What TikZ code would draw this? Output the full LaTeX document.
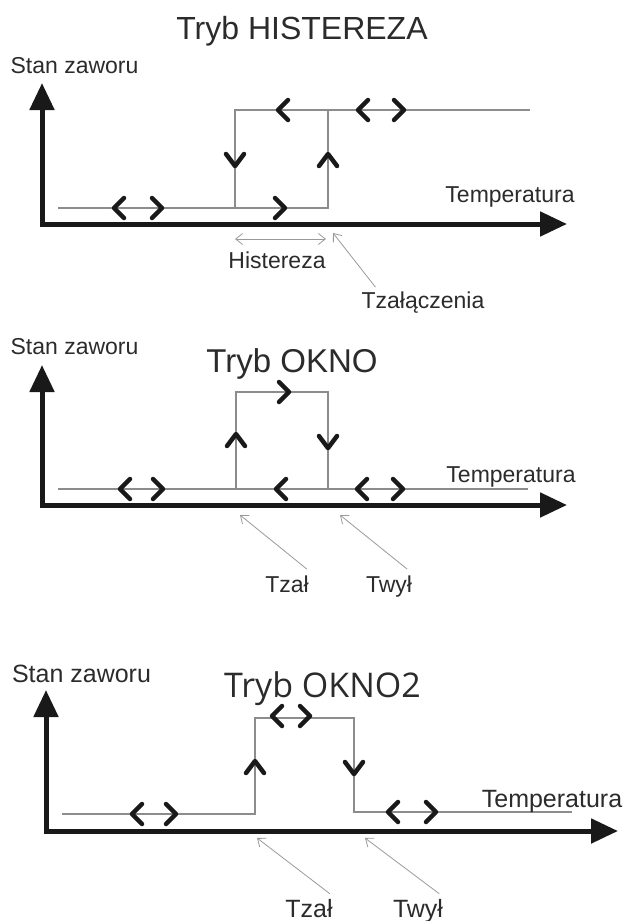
\documentclass[tikz,border=0pt]{standalone}
\usepackage{fontspec}
\setmainfont{Liberation Sans}
\newfontfamily\okfont{Open Sans}
\usetikzlibrary{arrows.meta}

\definecolor{linegray}{gray}{0.55}
\definecolor{axisblack}{gray}{0.1}
\definecolor{txtgray}{gray}{0.17}
\definecolor{annogray}{gray}{0.6}

\tikzset{
  chev/.style={line width=4.5pt,axisblack,line cap=round,line join=round},
  chl/.pic={\draw[chev] (5,-10) -- (-5,0) -- (5,10);},
  chr/.pic={\draw[chev] (-5,-10) -- (5,0) -- (-5,10);},
  chu/.pic={\draw[chev] (-9,6) -- (0,-6) -- (9,6);},
  chd/.pic={\draw[chev] (-9,-6) -- (0,6) -- (9,-6);}
}

\begin{document}
\begin{tikzpicture}[x=1pt,y=-1pt,
    axis/.style={line width=5pt,axisblack,
      {Triangle[length=27pt,width=24pt]}-{Triangle[length=27pt,width=24pt]}},
    curve/.style={line width=1.6pt,linegray},
    anno/.style={line width=0.8pt,annogray,-{Straight Barb[length=7pt,width=11pt]}},
    lbl/.style={text=txtgray,inner sep=0pt,anchor=base,font=\fontsize{23}{27}\selectfont},
    big/.style={lbl,font=\fontsize{25}{30}\selectfont},
    title/.style={text=txtgray,inner sep=0pt,anchor=base,font=\fontsize{32}{38}\selectfont}]
  \useasboundingbox (0,0) rectangle (624,921);

  % Tryb HISTEREZA
  \coordinate (y1) at (42,83);
  \coordinate (o1) at (42,224);
  \coordinate (x1) at (567,224);
  \draw[axis] (y1) -- (o1) -- (x1);
  \draw[curve] (58,208) -| (328,110);
  \draw[curve] (235,208) |- (530,110);
  \pic at (119,208) {chl};
  \pic at (157,208) {chr};
  \pic at (280,208) {chr};
  \pic at (283,110) {chl};
  \pic at (363,110) {chl};
  \pic at (399,110) {chr};
  \pic at (235,160) {chd};
  \pic at (328,160) {chu};
  \node[title] (tit1) at (302,39) {Tryb HISTEREZA};
  \node[lbl] (stan1) at (74.5,73) {Stan zaworu};
  \node[lbl] (temp1) at (510,202) {Temperatura};
  \node[lbl] (hist1) at (277,268) {Histereza};
  \node[lbl] (tzal1) at (423,308) {Tzałączenia};
  \coordinate (hl1) at (235,239);
  \coordinate (hr1) at (326,239);
  \coordinate (pt1) at (333,233);
  \draw[anno,{Straight Barb[length=7pt,width=11pt]}-{Straight Barb[length=7pt,width=11pt]}] (hl1) -- (hr1);
  \draw[anno] ([xshift=14pt,yshift=4pt]tzal1.north west) -- (pt1);

  % Tryb OKNO
  \coordinate (y2) at (42,365);
  \coordinate (o2) at (42,505);
  \coordinate (x2) at (567,505);
  \draw[axis] (y2) -- (o2) -- (x2);
  \draw[curve] (58,489) -- (528,489);
  \draw[curve] (236,489) |- (328,392) -- (328,489);
  \pic at (125,489) {chl};
  \pic at (158,489) {chr};
  \pic at (281,489) {chl};
  \pic at (362,489) {chl};
  \pic at (398,489) {chr};
  \pic at (284,392) {chr};
  \pic at (236,440) {chu};
  \pic at (328,442) {chd};
  \node[title,font=\fontsize{33}{39}\selectfont] (tit2) at (292,372) {Tryb OKNO};
  \node[lbl] (stan2) at (74.5,354) {Stan zaworu};
  \node[lbl] (temp2) at (511,482) {Temperatura};
  \node[lbl] (tzal2) at (287,592) {Tzał};
  \node[lbl] (twyl2) at (389,592) {Twył};
  \coordinate (pz2) at (240,515);
  \coordinate (pw2) at (340,515);
  \draw[anno] ([xshift=-2pt,yshift=6pt]tzal2.north east) -- (pz2);
  \draw[anno] ([xshift=-5pt,yshift=6pt]twyl2.north east) -- (pw2);

  % Tryb OKNO2
  \coordinate (y3) at (46,690);
  \coordinate (o3) at (46,831);
  \coordinate (x3) at (618,831);
  \draw[axis] (y3) -- (o3) -- (x3);
  \draw[curve] (62,814) -| (255,718) -| (354,812) -- (572,812);
  \pic at (137,814) {chl};
  \pic at (171,814) {chr};
  \pic at (277,716) {chl};
  \pic at (305,716) {chr};
  \pic at (393,812) {chl};
  \pic at (431,812) {chr};
  \pic at (255,767) {chu};
  \pic at (354,768) {chd};
  \node[title,font=\okfont\fontsize{34}{40}\selectfont] (tit3) at (322.5,697) {Tryb OKNO2};
  \node[big] (stan3) at (81.5,682) {Stan zaworu};
  \node[big] (temp3) at (552,807) {Temperatura};
  \node[big] (tzal3) at (309,917) {Tzał};
  \node[big] (twyl3) at (418,917) {Twył};
  \coordinate (pz3) at (257,838);
  \coordinate (pw3) at (365,838);
  \draw[anno] ([xshift=-3pt,yshift=5pt]tzal3.north east) -- (pz3);
  \draw[anno] ([xshift=-4pt,yshift=5pt]twyl3.north east) -- (pw3);
\end{tikzpicture}
\end{document}
